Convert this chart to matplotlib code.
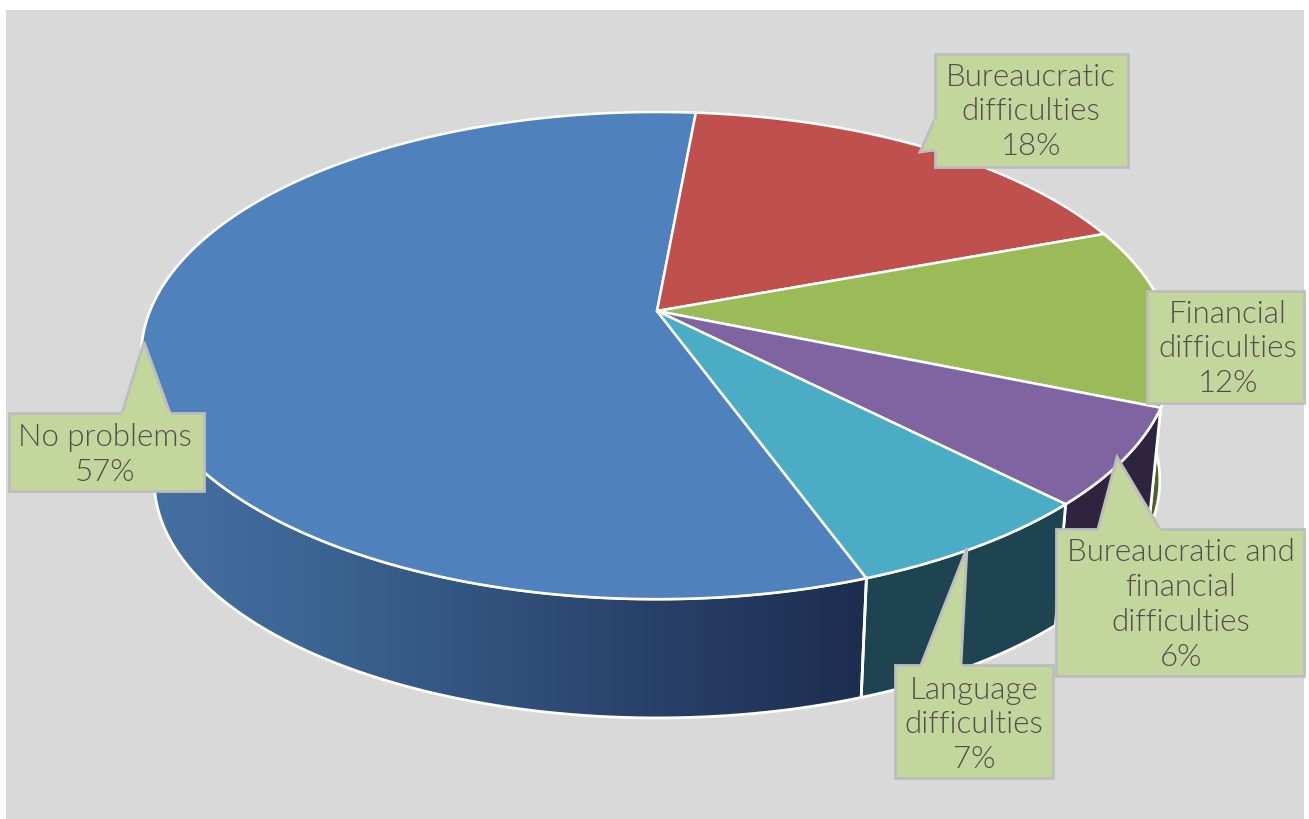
import numpy as np
import matplotlib
matplotlib.use("Agg")
import matplotlib.pyplot as plt
from matplotlib.patches import Polygon, Rectangle

# data
names = ["No problems", "Bureaucratic\ndifficulties", "Financial\ndifficulties",
         "Bureaucratic and\nfinancial\ndifficulties", "Language\ndifficulties"]
values = [57, 17.9, 11.9, 6.4, 6.8]  # labels show them rounded
top_colors = ["#4F81BD", "#C0504D", "#9BBB59", "#8064A2", "#4BACC6"]
side_colors = [None, "#632725", "#4F6228", "#2F2440", "#1D4450"]

# label box, tail and text centre, in pixels
boxes = [(9, 414, 204, 492), (935, 55, 1128, 168), (1147, 292, 1304, 404),
         (1056, 530, 1304, 677), (895, 666, 1053, 779)]
tails = [[(122, 414), (144, 343), (170, 414)],
         [(935, 120), (920, 153), (935, 151)],
         None,
         [(1098, 530), (1117, 458), (1160, 530)],
         [(921, 666), (967, 549), (961, 666)]]
text_pos = [(105, 454), (1031, 111), (1228, 348), (1181, 604), (974, 724)]

plt.rcParams['font.family'] = ['Lato', 'DejaVu Sans']

# the tilted disc: perspective from the disc to the picture
cx, cy = 657, 312
a, b, p = 507, 235.4, 0.183
start = 160
wall_scale, wall_drop = 0.975, 126


def top_xy(theta):
    t = np.radians(theta)
    u, v = np.sin(t), -np.cos(t)
    d = 1 - p * v
    return cx + a * u / d, cy + b * v / d


def bottom_xy(theta):
    x, y = top_xy(theta)
    return cx + (x - cx) * wall_scale, cy + wall_drop + (y - cy) * wall_scale


def wall_points(t1, t2):
    th = np.linspace(t1, t2, 150)
    xt, yt = top_xy(th)
    xb, yb = bottom_xy(th[::-1])
    return np.column_stack([np.r_[xt, xb], np.r_[yt, yb]])


fig = plt.figure(figsize=(13.09, 8.2), dpi=100, facecolor="white")
ax = fig.add_axes([0, 0, 1, 1])
ax.set_xlim(0, 1309)
ax.set_ylim(820, 0)
ax.axis("off")
ax.add_patch(Rectangle((6, 11), 1298, 809, fc="#D9D9D9", ec="none", zorder=0))

edges = start + np.r_[0, np.cumsum(values)] * 3.6

# walls first, the top faces cover what is behind them
for i in [2, 3, 4, 0]:
    t1, t2 = edges[i], edges[i + 1]
    if side_colors[i] is None:
        # only the front part of the big slice can be seen
        wall = Polygon(wall_points(t1, min(t2, 290)), fc="none", ec="white", lw=2, zorder=2)
        ax.add_patch(wall)
        shade_x = [150, 320, 600, 870]
        shade_c = np.array([[0x44, 0x70, 0xA2], [0x3B, 0x64, 0x92], [0x2C, 0x46, 0x70], [0x1C, 0x2D, 0x4E]]) / 255
        xs = np.linspace(150, 870, 300)
        img = np.stack([np.interp(xs, shade_x, shade_c[:, k]) for k in range(3)], axis=-1)[None, :, :]
        im = ax.imshow(img, extent=(150, 870, 760, 200), aspect="auto", zorder=1.5)
        im.set_clip_path(wall)
    else:
        ax.add_patch(Polygon(wall_points(t1, t2), fc=side_colors[i], ec="white", lw=2, zorder=2))

ax.set_xlim(0, 1309)
ax.set_ylim(820, 0)

# top faces
for i in range(len(values)):
    th = np.linspace(edges[i], edges[i + 1], 200)
    xs, ys = top_xy(th)
    pts = np.column_stack([np.r_[cx, xs], np.r_[cy, ys]])
    ax.add_patch(Polygon(pts, fc=top_colors[i], ec="white", lw=1.8, joinstyle="round", zorder=3))

# labels
box_fc, box_ec = "#C3D69B", "#BDBDBD"
for i in range(len(values)):
    x0, y0, x1, y1 = boxes[i]
    ax.add_patch(Rectangle((x0, y0), x1 - x0, y1 - y0, fc=box_fc, ec=box_ec, lw=2, zorder=4))
    if tails[i] is not None:
        ax.add_patch(Polygon(tails[i], closed=False, fc=box_fc, ec=box_ec, lw=2, zorder=5))
        ax.plot([tails[i][0][0], tails[i][-1][0]], [tails[i][0][1], tails[i][-1][1]],
                color=box_fc, lw=2.5, zorder=5, solid_capstyle="butt")
    ax.text(text_pos[i][0], text_pos[i][1] + 1, "%s\n%.0f%%" % (names[i], values[i]),
            ha="center", va="center", fontsize=22.5, fontweight=300,
            color="#505050", linespacing=1.25, zorder=6)

fig.savefig("out.png", dpi=100)
